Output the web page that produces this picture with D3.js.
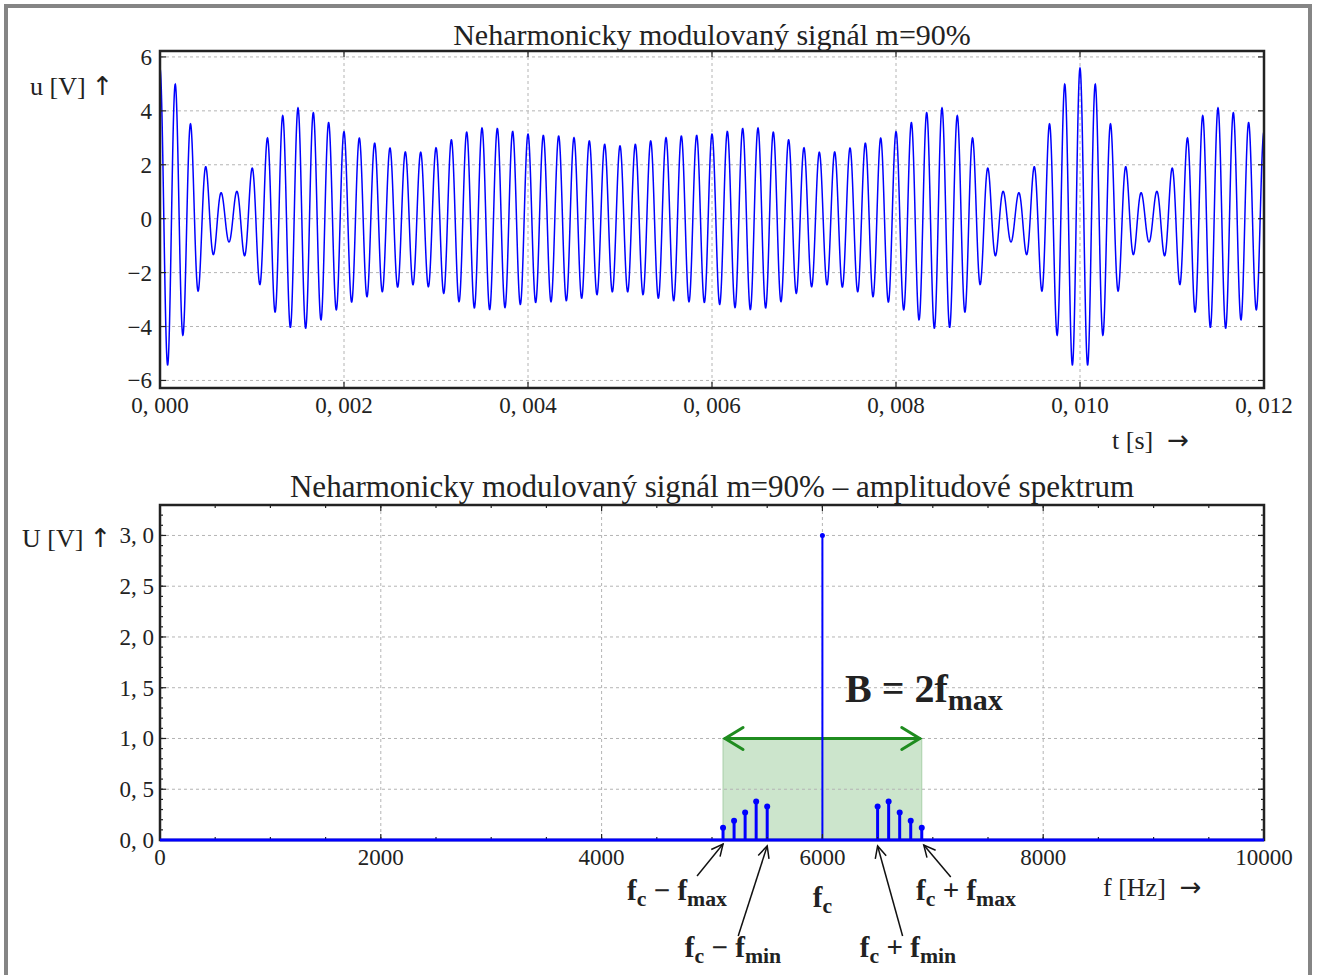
<!DOCTYPE html>
<html>
<head>
<meta charset="utf-8">
<script src="https://cdn.jsdelivr.net/npm/d3@7"></script>
<style>
  body { margin: 0; background: #fff; }
  text { font-family: "Liberation Serif", "DejaVu Serif", serif; fill: #222; }
  .arr { font-family: "DejaVu Sans", sans-serif; }
</style>
</head>
<body>
<div class="chart"></div>
<script>
// ---- data ----
const carrierFreq = 6000;
const carrierAmp = 3.0;
const sideFreqs = [5100, 5200, 5300, 5400, 5500, 6500, 6600, 6700, 6800, 6900];
const sideAmps  = [0.12, 0.19, 0.27, 0.38, 0.33, 0.33, 0.38, 0.27, 0.19, 0.12];

const tTicks = [0, 0.002, 0.004, 0.006, 0.008, 0.010, 0.012];
const tTickLabels = ['0, 000', '0, 002', '0, 004', '0, 006', '0, 008', '0, 010', '0, 012'];
const uTicks = [-6, -4, -2, 0, 2, 4, 6];
const uTickLabels = ['\u22126', '\u22124', '\u22122', '0', '2', '4', '6'];

const fTicks = [0, 2000, 4000, 6000, 8000, 10000];
const fTickLabels = ['0', '2000', '4000', '6000', '8000', '10000'];
const UTicks = [0, 0.5, 1.0, 1.5, 2.0, 2.5, 3.0];
const UTickLabels = ['0, 0', '0, 5', '1, 0', '1, 5', '2, 0', '2, 5', '3, 0'];

const bandEdges = [5100, 6900];
const bandLevel = 1.0;

// the time signal is the sum of the spectral lines above (cosines, zero phase)
const nSamples = 6000;
const tMax = 0.012;
const samples = d3.range(nSamples + 1).map(i => {
    const t = i / nSamples * tMax;
    let u = carrierAmp * Math.cos(2 * Math.PI * carrierFreq * t);
    sideFreqs.forEach((f, k) => { u += sideAmps[k] * Math.cos(2 * Math.PI * f * t); });
    return {t: t, u: u};
});
const spectrum = [{f: carrierFreq, a: carrierAmp}].concat(sideFreqs.map((f, k) => ({f: f, a: sideAmps[k]})));

// ---- layout ----
const W = 1318, H = 975;
const svg = d3.select('.chart').append('svg').attr('width', W).attr('height', H);

svg.append('rect')
    .attr('x', 6).attr('y', 6).attr('width', 1304).attr('height', 1000)
    .attr('fill', 'none').attr('stroke', '#858585').attr('stroke-width', 4);

const boxT = {left: 160, right: 1264, top: 51, bottom: 388};
const boxB = {left: 160, right: 1264, top: 505, bottom: 840};

const xT = d3.scaleLinear().domain([0, 0.012]).range([boxT.left, boxT.right]);
const yT = d3.scaleLinear().domain([-6.28, 6.22]).range([boxT.bottom, boxT.top]);
const xF = d3.scaleLinear().domain([0, 10000]).range([boxB.left, boxB.right]);
const yF = d3.scaleLinear().domain([0, 3.3]).range([boxB.bottom, boxB.top]);

function grid(g, xs, ys, xv, yv, box) {
    g.selectAll('.gx').data(xv).enter().append('line')
        .attr('x1', d => xs(d)).attr('x2', d => xs(d))
        .attr('y1', box.top).attr('y2', box.bottom);
    g.selectAll('.gy').data(yv).enter().append('line')
        .attr('y1', d => ys(d)).attr('y2', d => ys(d))
        .attr('x1', box.left).attr('x2', box.right);
    g.selectAll('line')
        .attr('stroke', '#b4b4b4').attr('stroke-width', 1).attr('stroke-dasharray', '3,3');
}

function frame(g, xs, ys, xMaj, yMaj, xMin, yMin, box) {
    const ticks = g.append('g').attr('stroke', '#222').attr('stroke-width', 1.2);
    [[xMaj, 6], [xMin, 3]].forEach(([vals, len]) => {
        vals.forEach(v => {
            ticks.append('line').attr('x1', xs(v)).attr('x2', xs(v)).attr('y1', box.bottom).attr('y2', box.bottom - len);
            ticks.append('line').attr('x1', xs(v)).attr('x2', xs(v)).attr('y1', box.top).attr('y2', box.top + len);
        });
    });
    [[yMaj, 6], [yMin, 3]].forEach(([vals, len]) => {
        vals.forEach(v => {
            ticks.append('line').attr('y1', ys(v)).attr('y2', ys(v)).attr('x1', box.left).attr('x2', box.left + len);
            ticks.append('line').attr('y1', ys(v)).attr('y2', ys(v)).attr('x1', box.right).attr('x2', box.right - len);
        });
    });
    g.append('rect')
        .attr('x', box.left).attr('y', box.top)
        .attr('width', box.right - box.left).attr('height', box.bottom - box.top)
        .attr('fill', 'none').attr('stroke', '#222').attr('stroke-width', 2.5);
}

function axisLabel(g, x, y, label, arrow, gap) {
    const t = g.append('text').attr('x', x).attr('y', y).attr('font-size', 26);
    t.append('tspan').text(label);
    t.append('tspan').attr('class', 'arr').attr('font-size', 26).attr('dx', gap).text(arrow);
}

// ---- upper chart: time signal ----
const g1 = svg.append('g');
grid(g1.append('g'), xT, yT, tTicks, uTicks, boxT);

g1.append('path')
    .datum(samples)
    .attr('fill', 'none')
    .attr('stroke', '#0000ff')
    .attr('stroke-width', 1.5)
    .attr('d', d3.line().x(d => xT(d.t)).y(d => yT(d.u)));

frame(g1, xT, yT, tTicks, uTicks, [], [], boxT);

g1.selectAll('.xl').data(tTicks).enter().append('text')
    .attr('x', d => xT(d)).attr('y', boxT.bottom + 25)
    .attr('text-anchor', 'middle').attr('font-size', 23)
    .text((d, i) => tTickLabels[i]);
g1.selectAll('.yl').data(uTicks).enter().append('text')
    .attr('x', boxT.left - 8).attr('y', d => yT(d) + 8)
    .attr('text-anchor', 'end').attr('font-size', 23)
    .text((d, i) => uTickLabels[i]);

g1.append('text').attr('x', 712).attr('y', 45).attr('text-anchor', 'middle')
    .attr('font-size', 30).text('Neharmonicky modulovaný signál m=90%');
axisLabel(g1, 30, 95, 'u [V]', '\u2191', 6);
axisLabel(g1, 1112, 449, 't [s]', '\u2192', 14);

// ---- lower chart: amplitude spectrum ----
const g2 = svg.append('g');

g2.append('rect')
    .attr('x', xF(bandEdges[0])).attr('y', yF(bandLevel))
    .attr('width', xF(bandEdges[1]) - xF(bandEdges[0]))
    .attr('height', yF(0) - yF(bandLevel))
    .attr('fill', '#cce5cc').attr('stroke', '#a9d0a9').attr('stroke-width', 1);

grid(g2.append('g'), xF, yF, fTicks, UTicks, boxB);

// green double arrow for the bandwidth
const ag = g2.append('g').attr('stroke', '#1f8c1f').attr('fill', 'none')
    .attr('stroke-width', 3).attr('stroke-linecap', 'round');
const ay = yF(bandLevel);
const ax0 = xF(bandEdges[0]), ax1 = xF(bandEdges[1]);
ag.append('line').attr('x1', ax0 + 2).attr('x2', ax1 - 2).attr('y1', ay).attr('y2', ay);
ag.append('path').attr('d', `M${ax0 + 20},${ay - 11}L${ax0 + 2},${ay}L${ax0 + 20},${ay + 11}`);
ag.append('path').attr('d', `M${ax1 - 20},${ay - 11}L${ax1 - 2},${ay}L${ax1 - 20},${ay + 11}`);

// stems
g2.selectAll('.stem').data(spectrum).enter().append('line')
    .attr('x1', d => xF(d.f)).attr('x2', d => xF(d.f))
    .attr('y1', yF(0)).attr('y2', d => yF(d.a))
    .attr('stroke', '#0000ff')
    .attr('stroke-width', d => d.f === carrierFreq ? 2 : 3);
g2.selectAll('.dot').data(spectrum).enter().append('circle')
    .attr('cx', d => xF(d.f)).attr('cy', d => yF(d.a))
    .attr('r', d => d.f === carrierFreq ? 2.5 : 3)
    .attr('fill', '#0000ff');

frame(g2, xF, yF, fTicks, UTicks, d3.range(0, 10001, 500), d3.range(0, 3.31, 0.1), boxB);

// stem baseline over the frame
g2.append('line')
    .attr('x1', xF(0)).attr('x2', xF(10000)).attr('y1', yF(0)).attr('y2', yF(0))
    .attr('stroke', '#0000ff').attr('stroke-width', 3);

g2.selectAll('.xl').data(fTicks).enter().append('text')
    .attr('x', d => xF(d)).attr('y', boxB.bottom + 25)
    .attr('text-anchor', 'middle').attr('font-size', 23)
    .text((d, i) => fTickLabels[i]);
g2.selectAll('.yl').data(UTicks).enter().append('text')
    .attr('x', boxB.left - 6).attr('y', d => yF(d) + 8)
    .attr('text-anchor', 'end').attr('font-size', 23)
    .text((d, i) => UTickLabels[i]);

g2.append('text').attr('x', 712).attr('y', 497).attr('text-anchor', 'middle')
    .attr('font-size', 31).text('Neharmonicky modulovaný signál m=90% \u2013 amplitudové spektrum');
axisLabel(g2, 22, 547, 'U [V]', '\u2191', 6);
axisLabel(g2, 1103, 896, 'f [Hz]', '\u2192', 14);

// annotations
function subText(g, x, y, parts, size, anchor) {
    const t = g.append('text').attr('x', x).attr('y', y)
        .attr('text-anchor', anchor || 'middle')
        .attr('font-size', size).attr('font-weight', 'bold').attr('fill', '#111');
    let down = false;
    parts.forEach(([s, sub]) => {
        const sp = t.append('tspan').text(s);
        if (sub && !down) { sp.attr('dy', size * 0.2).attr('font-size', size * 0.75); down = true; }
        else if (sub) { sp.attr('font-size', size * 0.75); }
        else if (down) { sp.attr('dy', -size * 0.2); down = false; }
    });
    return t;
}

subText(g2, 845, 702, [['B = 2f', false], ['max', true]], 40, 'start');

const notes = [
    {f: bandEdges[0], tip: [0, 4], tail: [-26, 32], tx: 677, ty: 900, parts: [['f', 0], ['c', 1], [' \u2212 f', 0], ['max', 1]]},
    {f: 5500, tip: [0, 6], tail: [-29, 90], tx: 733, ty: 957, parts: [['f', 0], ['c', 1], [' \u2212 f', 0], ['min', 1]]},
    {f: 6500, tip: [0, 6], tail: [25, 90], tx: 908, ty: 957, parts: [['f', 0], ['c', 1], [' + f', 0], ['min', 1]]},
    {f: bandEdges[1], tip: [2, 5], tail: [27, 32], tx: 966, ty: 900, parts: [['f', 0], ['c', 1], [' + f', 0], ['max', 1]]}
];
const na = g2.append('g').attr('stroke', '#111').attr('stroke-width', 1.5).attr('fill', 'none');
notes.forEach(n => {
    const hx = xF(n.f) + n.tip[0], hy = yF(0) + n.tip[1];
    const sx = hx + n.tail[0], sy = hy + n.tail[1];
    na.append('line').attr('x1', sx).attr('y1', sy).attr('x2', hx).attr('y2', hy);
    const ang = Math.atan2(hy - sy, hx - sx), L = 13, A = 0.45;
    const p1 = [hx - L * Math.cos(ang - A), hy - L * Math.sin(ang - A)];
    const p2 = [hx - L * Math.cos(ang + A), hy - L * Math.sin(ang + A)];
    na.append('path').attr('d', `M${p1}L${hx},${hy}L${p2}`);
    subText(g2, n.tx, n.ty, n.parts.map(p => [p[0], !!p[1]]), 29);
});
subText(g2, xF(carrierFreq), 907, [['f', false], ['c', true]], 29);
</script>
</body>
</html>
